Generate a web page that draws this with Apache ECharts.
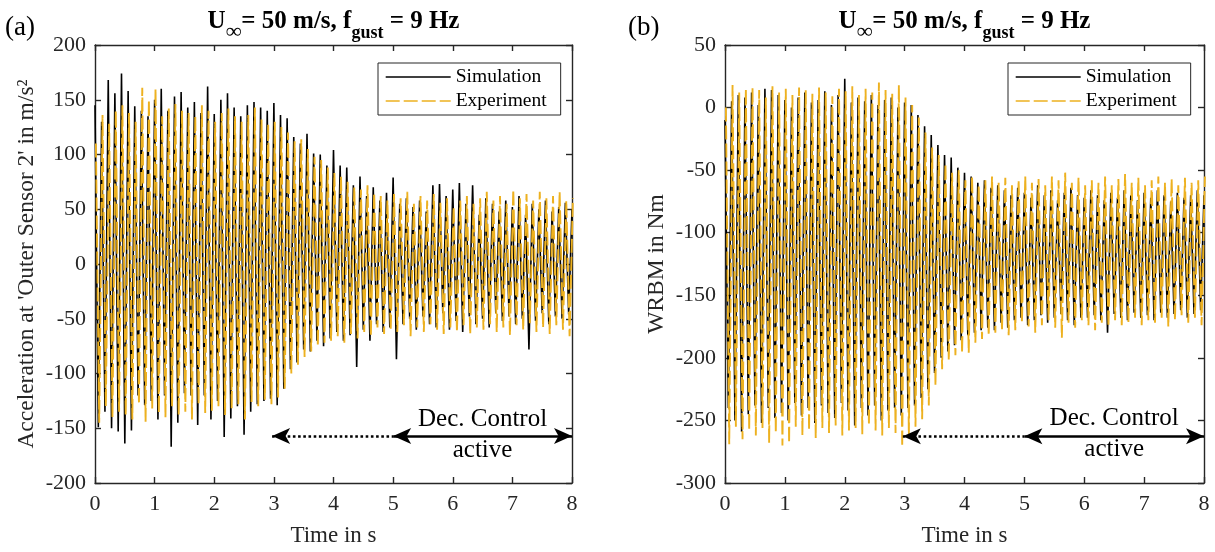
<!DOCTYPE html>
<html>
<head>
<meta charset="utf-8">
<script src="https://cdn.jsdelivr.net/npm/echarts@6/dist/echarts.min.js"></script>
<style>html,body{margin:0;padding:0;background:#fff}#c{width:1215px;height:552px}</style>
</head>
<body>
<div id="c"></div>
<script>
// ---------- data ----------
const gustFrequencyHz = 9;              // one peak + one trough per gust period
const timeRange = [0, 8];               // s
const expTimeShift = 0.015;             // s, small lag of the measured signal
const accRange = [-200, 200];           // m/s^2
const wrbmRange = [-300, 50];           // Nm
const tickStep = { time: 1, acc: 50, wrbm: 50 };

// (a) acceleration at 'Outer Sensor 2' : per-cycle peaks (73) and troughs (72)
const accSimPeaks = [145,130,168,156,174,158,144,140,135,150,160,140,153,157,143,148,138,162,137,150,156,143,135,145,148,143,140,147,136,133,116,110,119,101,100,90,104,90,88,72,80,62,70,58,65,79,55,60,52,58,48,72,73,62,68,74,55,72,45,60,55,48,58,52,62,45,55,50,58,48,52,56,50];
const accSimTroughs = [-149,-135,-150,-153,-164,-152,-120,-129,-125,-142,-120,-167,-145,-118,-120,-147,-120,-142,-125,-158,-141,-130,-156,-135,-128,-125,-123,-129,-114,-96,-90,-78,-80,-70,-75,-68,-62,-70,-65,-94,-60,-70,-55,-62,-58,-87,-55,-50,-60,-48,-55,-58,-45,-60,-52,-62,-48,-55,-50,-58,-45,-52,-48,-55,-50,-78,-52,-45,-55,-48,-50,-46];
const accExpPeaks = [110,136,128,140,145,138,130,161,150,160,135,142,146,140,138,135,145,140,130,138,142,135,130,136,143,132,128,130,125,120,112,114,105,98,95,88,83,80,75,70,68,72,65,62,58,64,60,66,55,62,58,64,56,60,52,58,62,55,60,66,58,62,55,68,60,64,58,66,60,62,66,58,60];
const accExpTroughs = [-145,-130,-140,-135,-138,-142,-128,-144,-132,-136,-140,-130,-138,-135,-142,-128,-136,-134,-130,-138,-132,-128,-142,-126,-130,-124,-128,-122,-114,-100,-92,-85,-80,-75,-72,-70,-66,-72,-64,-68,-62,-66,-58,-64,-60,-62,-56,-66,-58,-62,-55,-60,-64,-58,-62,-56,-64,-58,-60,-55,-62,-58,-65,-56,-60,-54,-62,-58,-64,-56,-60,-66];

// (b) WRBM : per-cycle peaks (73) and troughs (72)
const wrbmSimPeaks = [-10,5,10,8,12,2,15,14,10,6,0,8,12,4,6,13,2,10,23,4,8,5,10,2,6,8,0,4,2,-6,-15,-22,-30,-38,-40,-48,-52,-55,-60,-58,-64,-62,-66,-70,-64,-68,-72,-62,-70,-66,-74,-68,-64,-70,-72,-66,-70,-74,-68,-72,-66,-70,-74,-68,-72,-66,-70,-75,-68,-72,-70,-66,-70];
const wrbmSimTroughs = [-240,-250,-259,-245,-238,-252,-240,-248,-244,-250,-236,-246,-240,-252,-238,-244,-248,-236,-242,-254,-240,-246,-238,-250,-242,-240,-246,-240,-238,-232,-225,-212,-200,-195,-190,-186,-182,-180,-178,-176,-178,-172,-176,-170,-168,-174,-170,-166,-172,-168,-165,-170,-174,-168,-168,-166,-170,-180,-165,-168,-170,-164,-168,-166,-170,-164,-168,-165,-162,-168,-165,-162];
const wrbmExpPeaks = [0,18,12,15,16,14,8,17,12,15,10,16,14,11,16,12,9,15,13,17,10,15,12,20,14,11,18,8,2,-8,-20,-32,-38,-45,-52,-50,-58,-55,-62,-58,-55,-60,-56,-62,-58,-55,-60,-57,-62,-55,-58,-52,-60,-56,-62,-58,-60,-55,-62,-57,-53,-60,-56,-62,-58,-55,-60,-57,-62,-56,-60,-58,-55];
const wrbmExpTroughs = [-269,-255,-265,-258,-262,-256,-268,-260,-270,-268,-255,-262,-258,-264,-256,-260,-254,-262,-258,-256,-261,-254,-258,-262,-256,-260,-271,-262,-255,-249,-238,-222,-209,-202,-198,-196,-196,-188,-185,-182,-180,-178,-182,-178,-172,-175,-180,-174,-170,-176,-184,-172,-176,-170,-174,-178,-172,-175,-170,-174,-172,-168,-174,-170,-172,-168,-175,-170,-166,-172,-168,-174];

// annotation (arrow) levels and texts
const seriesNames = ['Simulation', 'Experiment'];
const accArrowLevel = -157, wrbmArrowLevel = -262.6;
const ctrlStart = 5, ctrlEnd = 8, pendingStart = 2.97;
const ctrlText = ['Dec. Control', 'active'];
const accTextLevels = [-141.5, -170.5], wrbmTextLevels = [-248.5, -273.5];
const ctrlTextTime = 6.5;

// ---------- build ----------
const FONT = "'Liberation Serif','Times New Roman',serif";
const AX = '#262626';
const ORANGE = '#EDB120';

function zigzag(peaks, troughs, shift) {
  const half = 1 / (2 * gustFrequencyHz);
  const out = [];
  for (let k = 0; k < peaks.length; k++) {
    out.push([shift + 2 * k * half, peaks[k]]);
    if (k < troughs.length) out.push([shift + (2 * k + 1) * half, troughs[k]]);
  }
  return out;
}

function axisCommon(extra) {
  return Object.assign({
    type: 'value',
    axisLine: { show: true, onZero: false, lineStyle: { color: AX, width: 1.4 } },
    axisTick: { show: true, inside: true, length: 6, lineStyle: { color: AX, width: 1.4 } },
    axisLabel: { fontFamily: FONT, fontSize: 22, color: AX },
    splitLine: { show: false }
  }, extra);
}

function xAxes(gi) {
  return [
    axisCommon({ gridIndex: gi, min: timeRange[0], max: timeRange[1], interval: tickStep.time, position: 'bottom',
      name: 'Time in s', nameLocation: 'middle', nameGap: 41,
      nameTextStyle: { fontFamily: FONT, fontSize: 23, color: AX },
      axisLabel: { fontFamily: FONT, fontSize: 22, color: AX, margin: 10 } }),
    axisCommon({ gridIndex: gi, min: timeRange[0], max: timeRange[1], interval: tickStep.time, position: 'top',
      axisLabel: { show: false } })
  ];
}
function yAxes(gi, range, step, name) {
  return [
    axisCommon({ gridIndex: gi, min: range[0], max: range[1], interval: step, position: 'left',
      name: name, nameLocation: 'middle', nameGap: 56,
      nameTextStyle: { fontFamily: FONT, fontSize: 23.5, color: AX },
      axisLabel: { fontFamily: FONT, fontSize: 22, color: AX, margin: 9 } }),
    axisCommon({ gridIndex: gi, min: range[0], max: range[1], interval: step, position: 'right',
      axisLabel: { show: false } })
  ];
}

function arrows(level, tipPending, tipStart, tipEnd) {
  const base = { color: '#000', width: 2.6 };
  return {
    silent: true, animation: false, label: { show: false }, symbolSize: [12, 18],
    emphasis: { disabled: true },
    data: [
      [{ coord: [tipPending, level], symbol: 'arrow', lineStyle: Object.assign({ type: [2.6, 2.6] }, base) },
       { coord: [tipStart, level], symbol: 'none' }],
      [{ coord: [tipStart, level], symbol: 'arrow', lineStyle: Object.assign({ type: 'solid' }, base) },
       { coord: [tipEnd, level], symbol: 'arrow' }]
    ]
  };
}
function texts(levels) {
  return {
    silent: true, animation: false, symbol: 'circle', symbolSize: 1,
    itemStyle: { color: 'rgba(0,0,0,0)' },
    label: { show: true, position: 'inside', color: '#000', fontFamily: FONT, fontSize: 25 },
    data: ctrlText.map((t, i) => ({ coord: [ctrlTextTime, levels[i]], label: { formatter: t } }))
  };
}

function panelSeries(xi, yi, simP, simT, expP, expT, arrowLevel, textLevels) {
  return [
    { name: seriesNames[0], type: 'line', xAxisIndex: xi, yAxisIndex: yi, showSymbol: false, symbol: 'none',
      data: zigzag(simP, simT, 0), lineStyle: { color: '#000', width: 1.6 }, itemStyle: { color: '#000' },
      animation: false, silent: true,
      markLine: arrows(arrowLevel, pendingStart, ctrlStart, ctrlEnd),
      markPoint: texts(textLevels) },
    { name: seriesNames[1], type: 'line', xAxisIndex: xi, yAxisIndex: yi, showSymbol: false, symbol: 'none',
      data: zigzag(expP, expT, expTimeShift), lineStyle: { color: ORANGE, width: 1.9, type: [14, 4] },
      itemStyle: { color: ORANGE }, animation: false, silent: true }
  ];
}

function legend(left) {
  return {
    left: left, top: 63, orient: 'vertical', data: seriesNames,
    itemWidth: 65, itemHeight: 20, itemGap: 4,
    padding: [4, 14, 4, 7], borderColor: AX, borderWidth: 1, backgroundColor: '#fff',
    itemStyle: { opacity: 0 },
    lineStyle: { width: 1.4 },
    textStyle: { fontFamily: FONT, fontSize: 19.5, color: '#000' },
    selectedMode: false
  };
}

function titleGraphic(cx) {
  const m = { fontFamily: FONT, fontSize: 25, fontWeight: 'bold', color: '#000', verticalAlign: 'top', lineHeight: 26 };
  const s = { fontFamily: FONT, fontSize: 18, fontWeight: 'bold', color: '#000', verticalAlign: 'top', lineHeight: 18, padding: [15, 0, 0, 0] };
  const inf = { fontFamily: FONT, fontSize: 22, fontWeight: 'bold', color: '#000', verticalAlign: 'top', lineHeight: 20, padding: [12, 0, 0, 0] };
  return {
    type: 'text', x: cx, y: 9, silent: true,
    style: { text: '{m|U}{inf|∞}{m|= 50 m/s, f}{s|gust}{m| = 9 Hz}', rich: { m: m, s: s, inf: inf },
      align: 'center', textAlign: 'center', verticalAlign: 'top', textVerticalAlign: 'top' }
  };
}
function panelLabel(x, t) {
  return { type: 'text', x: x, y: 28, silent: true,
    style: { text: t, font: '27px ' + FONT, fill: '#000', verticalAlign: 'middle', textVerticalAlign: 'middle' } };
}

const option = {
  animation: false,
  backgroundColor: '#fff',
  textStyle: { fontFamily: FONT },
  grid: [
    { left: 95, right: 643, top: 45, bottom: 68 },
    { left: 725, right: 11, top: 45, bottom: 68 }
  ],
  xAxis: [...xAxes(0), ...xAxes(1)],
  yAxis: [...yAxes(0, accRange, tickStep.acc, "Acceleration at 'Outer Sensor 2' in m/s²"),
          ...yAxes(1, wrbmRange, tickStep.wrbm, 'WRBM in Nm')],
  legend: [legend(378), legend(1008)],
  series: [
    ...panelSeries(0, 0, accSimPeaks, accSimTroughs, accExpPeaks, accExpTroughs, accArrowLevel, accTextLevels),
    ...panelSeries(2, 2, wrbmSimPeaks, wrbmSimTroughs, wrbmExpPeaks, wrbmExpTroughs, wrbmArrowLevel, wrbmTextLevels)
  ],
  graphic: [titleGraphic(333.5), titleGraphic(964.5), panelLabel(5, '(a)'), panelLabel(628, '(b)')]
};

const chart = echarts.init(document.getElementById('c'), null, { renderer: 'canvas', width: 1215, height: 552 });
chart.setOption(option);
</script>
</body>
</html>
